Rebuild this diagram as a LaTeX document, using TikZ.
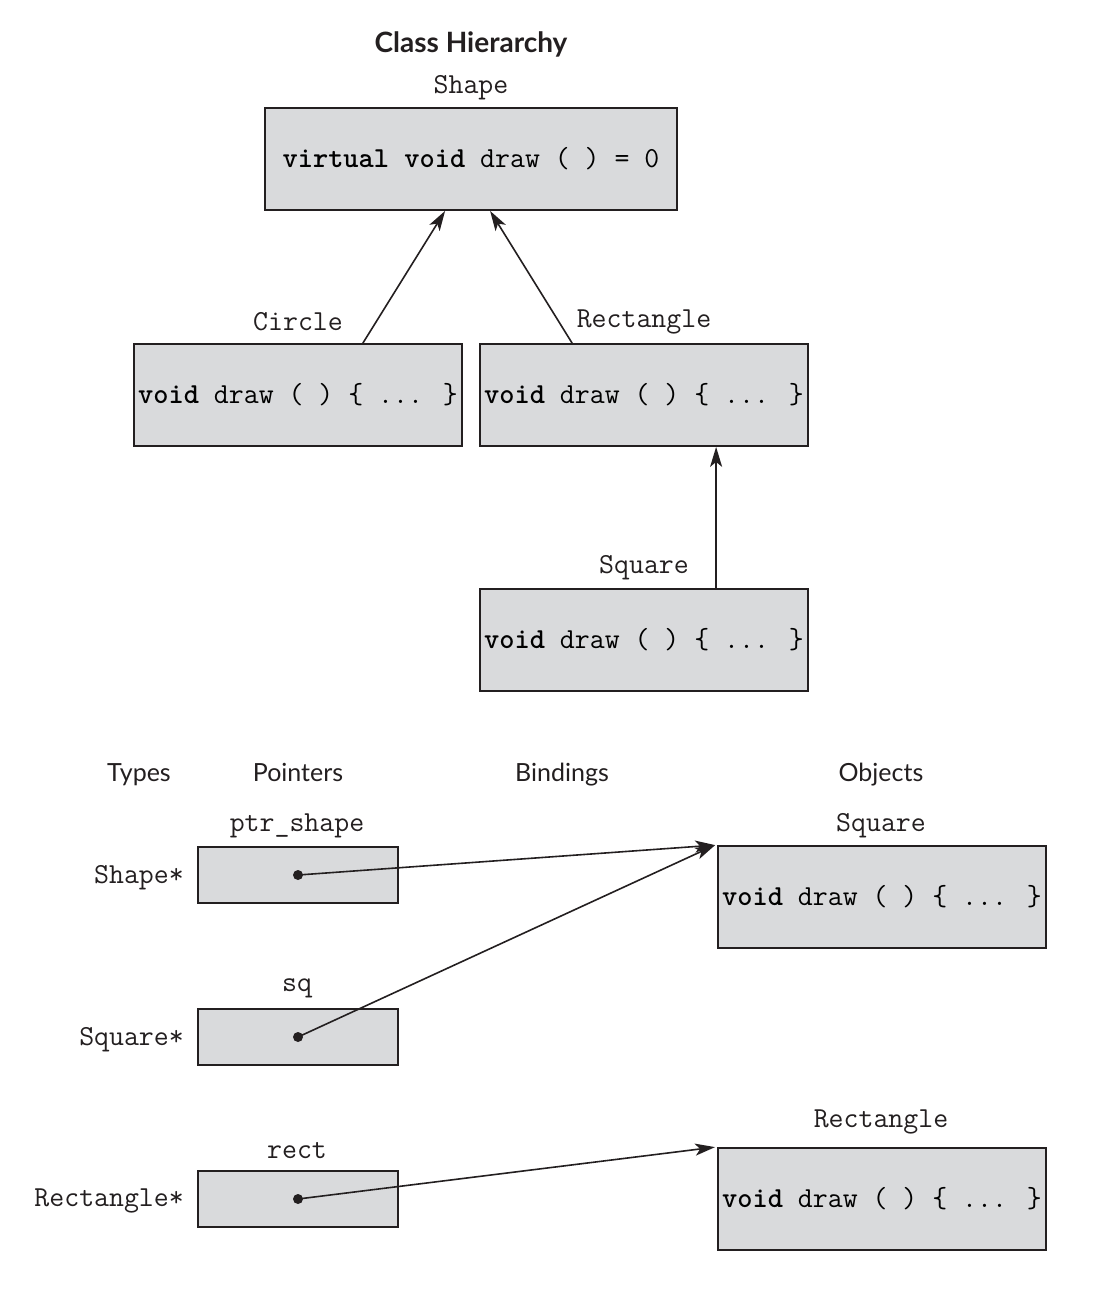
\documentclass[tikz,border=0pt]{standalone}
\usepackage{fontspec}
\setmainfont{Lato}
\usetikzlibrary{arrows.meta}
\definecolor{boxgray}{RGB}{217,218,220}
\definecolor{ink}{RGB}{35,31,32}
\begin{document}
\begin{tikzpicture}[x=1pt,y=-1pt,
  box/.style={draw=ink,line width=1.8pt,fill=boxgray,inner sep=0pt,minimum width=328pt,minimum height=102pt,font=\fontsize{29}{32}\ttfamily},
  ptrbox/.style={draw=ink,line width=1.6pt,fill=boxgray,inner sep=0pt,minimum width=200pt,minimum height=56pt},
  mono/.style={font=\fontsize{29}{32}\ttfamily,text=ink,inner sep=0pt},
  sans/.style={font=\fontsize{25}{30}\selectfont,text=ink,inner sep=0pt,anchor=base},
  arr/.style={draw=ink,line width=1.6pt,-{Stealth[length=20pt,width=12pt,inset=5pt]}},
  dotn/.style={circle,fill=ink,inner sep=0pt,minimum size=10pt}
]
\useasboundingbox (0,0) rectangle (1102,1292);
% title
\node[sans,font=\fontsize{28}{32}\bfseries] (title) at (471,53) {Class Hierarchy};
% class hierarchy
\node[box,minimum width=412pt] (shape) at (471,159) {\textbf{virtual void} draw ( ) = 0};
\node[mono] (shapelbl) at (471,88) {Shape};
\node[box] (circle) at (298,395) {\textbf{void} draw ( ) \{ ... \}};
\node[mono] (circlelbl) at (298,322) {Circle};
\node[box] (rect) at (644,395) {\textbf{void} draw ( ) \{ ... \}};
\node[mono] (rectlbl) at (644,322) {Rectangle};
\node[box] (square) at (644,640) {\textbf{void} draw ( ) \{ ... \}};
\node[mono] (squarelbl) at (644,568) {Square};
\draw[arr] ([xshift=-100pt]circle.north east) -- ([xshift=181pt]shape.south west);
\draw[arr] ([xshift=93pt]rect.north west) -- ([xshift=226pt]shape.south west);
\draw[arr] ([xshift=237pt]square.north west) -- ([xshift=237pt]rect.south west);
% headings
\node[sans] (types) at (139,781) {Types};
\node[sans] (pointers) at (298,781) {Pointers};
\node[sans] (bindings) at (562,781) {Bindings};
\node[sans] (objects) at (881,781) {Objects};
% pointers
\node[ptrbox] (p1) at (298,875) {};
\node[mono] (p1lbl) at (297,826) {ptr\_shape};
\node[mono,anchor=east] (t1) at (184,878) {Shape*};
\node[dotn] (d1) at (298,875) {};
\node[ptrbox] (p2) at (298,1037) {};
\node[mono] (p2lbl) at (297,988) {sq};
\node[mono,anchor=east] (t2) at (184,1040) {Square*};
\node[dotn] (d2) at (298,1037) {};
\node[ptrbox] (p3) at (298,1199) {};
\node[mono] (p3lbl) at (297,1151) {rect};
\node[mono,anchor=east] (t3) at (184,1201) {Rectangle*};
\node[dotn] (d3) at (298,1199) {};
% objects
\node[box] (osq) at (882,897) {\textbf{void} draw ( ) \{ ... \}};
\node[mono] (osqlbl) at (881,826) {Square};
\node[box] (orect) at (882,1199) {\textbf{void} draw ( ) \{ ... \}};
\node[mono] (orectlbl) at (881,1122) {Rectangle};
% bindings
\draw[arr] (d1.center) -- ([xshift=-2pt]osq.north west);
\draw[arr] (d2.center) -- ([xshift=-2pt]osq.north west);
\draw[arr] (d3.center) -- ([xshift=-2pt]orect.north west);
\end{tikzpicture}
\end{document}
